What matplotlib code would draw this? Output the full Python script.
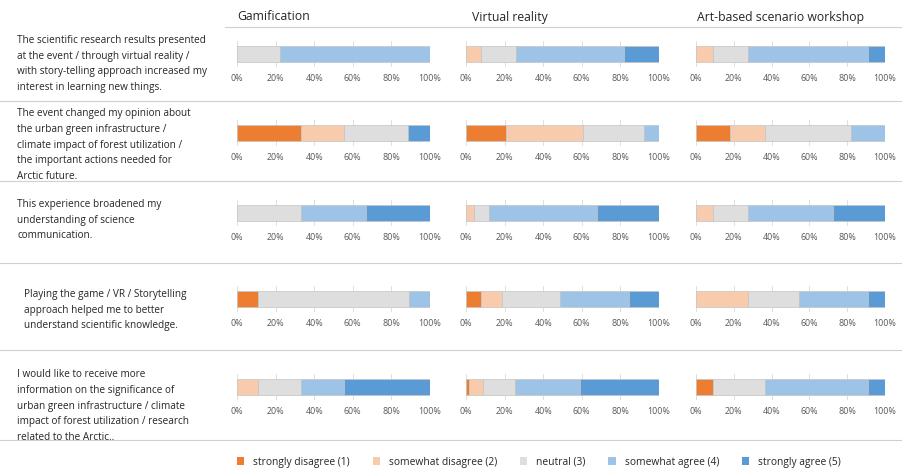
import matplotlib
matplotlib.use("Agg")
import matplotlib.pyplot as plt
from matplotlib.patches import Patch
from matplotlib.lines import Line2D

plt.rcParams['font.family'] = ['Open Sans', 'DejaVu Sans']

W, H = 902, 475

methods = ["Gamification", "Virtual reality", "Art-based scenario workshop"]
levels = ["strongly disagree (1)", "somewhat disagree (2)", "neutral (3)",
          "somewhat agree (4)", "strongly agree (5)"]
colors = ["#ED7D31", "#F8CBAD", "#DEDEDE", "#9DC3E6", "#5B9BD5"]

statements = [
    "The scientific research results presented\nat the event / through virtual reality /\nwith story-telling approach increased my\ninterest in learning new things.",
    "The event changed my opinion about\nthe urban green infrastructure /\nclimate impact of forest utilization /\nthe important actions needed for\nArctic future.",
    "This experience broadened my\nunderstanding of science\ncommunication.",
    "Playing the game / VR / Storytelling\napproach helped me to better\nunderstand scientific knowledge.",
    "I would like to receive more\ninformation on the significance of\nurban green infrastructure / climate\nimpact of forest utilization / research\nrelated to the Arctic..",
]

# percentages [statement][method][level]
gamification = [
    [0, 0, 22.2, 77.8, 0],
    [33.3, 22.2, 33.3, 0, 11.2],
    [0, 0, 33.3, 33.4, 33.3],
    [11.1, 0, 77.8, 11.1, 0],
    [0, 11.1, 22.2, 22.3, 44.4],
]
virtual_reality = [
    [0, 8, 18, 56, 18],
    [20.5, 40, 31.5, 8, 0],
    [0, 4, 8, 56, 32],
    [8, 10.5, 30, 36, 15.5],
    [1.5, 7.5, 16.5, 33.5, 41],
]
art_workshop = [
    [0, 9.1, 18.2, 63.6, 9.1],
    [18.2, 18.2, 45.4, 18.2, 0],
    [0, 9.1, 18.2, 45.4, 27.3],
    [0, 27.3, 27.3, 36.3, 9.1],
    [9.1, 0, 27.3, 54.5, 9.1],
]
data = [gamification, virtual_reality, art_workshop]

ticks = [0, 20, 40, 60, 80, 100]
tick_labels = ["0%", "20%", "40%", "60%", "80%", "100%"]

fig = plt.figure(figsize=(W / 100, H / 100), dpi=100)

col_x = [(237, 430), (466, 659), (696, 885)]
row_y = [54, 133, 213, 299, 387]
text_y = [64, 145, 220, 310, 406]
text_x = [17, 17, 17, 24, 17]
ax_h = 26

txtcol = "#262626"
for r in range(5):
    fig.text(text_x[r] / W, 1 - text_y[r] / H, statements[r], ha="left", va="center",
             fontsize=7.2, color=txtcol, linespacing=1.6)
    for c in range(3):
        x0, x1 = col_x[c]
        ax = fig.add_axes([x0 / W, 1 - (row_y[r] + ax_h / 2) / H, (x1 - x0) / W, ax_h / H])
        left = 0
        for k, v in enumerate(data[c][r]):
            if v > 0:
                ax.barh(0, v, left=left, height=1.0, color=colors[k],
                        edgecolor="#c4c4c4", linewidth=0.5, zorder=3)
            left += v
        ax.set_xlim(0, 100)
        ax.set_ylim(-0.8, 0.8)
        ax.set_xticks(ticks)
        ax.set_xticklabels(tick_labels, fontsize=6.4, color="#595959")
        ax.tick_params(axis="x", length=0, pad=5)
        ax.set_yticks([])
        ax.grid(axis="x", color="#d9d9d9", linewidth=0.6, zorder=0)
        for s in ax.spines.values():
            s.set_visible(False)
        ax.patch.set_alpha(0)

# headers
header_x = [237, 472, 697]
for c in range(3):
    fig.text(header_x[c] / W, 1 - 17 / H, methods[c], ha="left", va="center",
             fontsize=8.8, color=txtcol)

# separator lines
for yy, xa in [(27, 225), (101, 0), (181, 0), (263, 0), (350, 0), (440, 0)]:
    fig.add_artist(Line2D([xa / W, 1.0], [1 - yy / H, 1 - yy / H],
                          color="#d0d0d0", linewidth=0.8, transform=fig.transFigure))

handles = [Patch(facecolor=colors[k], edgecolor="none") for k in range(5)]
fig.legend(handles, levels, loc="center", bbox_to_anchor=(539 / W, 1 - 462 / H),
           ncol=5, frameon=False, fontsize=7.4, handlelength=0.7, handleheight=0.7,
           columnspacing=2.2, handletextpad=0.9, labelcolor=txtcol)

fig.savefig("out.png", dpi=100)
